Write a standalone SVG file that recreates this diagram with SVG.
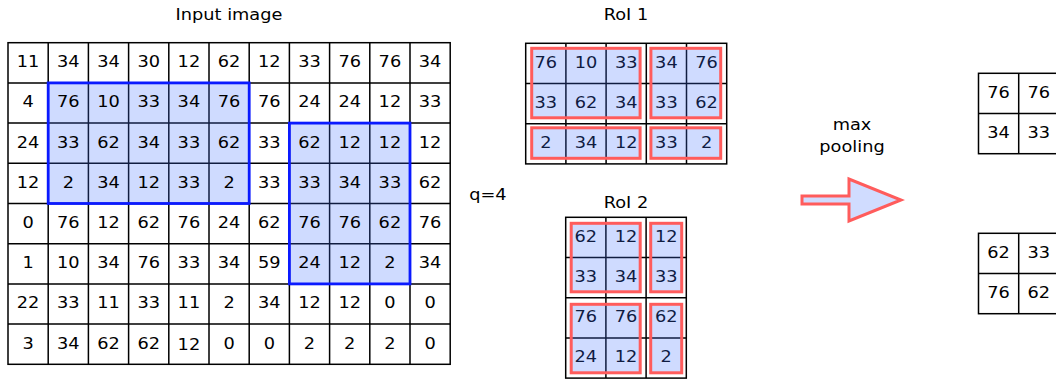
<svg xmlns="http://www.w3.org/2000/svg" width="1056" height="380" viewBox="0 0 1056 380">
  <style>
    text { font-family: "DejaVu Sans", "Liberation Sans", sans-serif; font-size: 16px; fill: #000;
           transform-box: fill-box; transform-origin: center; transform: scaleX(1.11); }
    .c { text-anchor: middle; }
    .grid { fill: none; stroke: #000; stroke-width: 1.5; }
    .frame { fill: #fff; stroke: #000; stroke-width: 1.5; }
    .roi { fill: #4070ff; fill-opacity: 0.25; stroke: #0a1aff; stroke-width: 2.8; }
    .bin { fill: #4070ff; fill-opacity: 0.25; stroke: #ff5c5c; stroke-width: 3; }
  </style>

  <!-- titles -->
  <g id="labels">
    <text class="c" x="229" y="20">Input image</text>
    <text class="c" x="626" y="20">RoI 1</text>
    <text class="c" x="626" y="208">RoI 2</text>
    <text x="471" y="200">q=4</text>
    <text class="c" x="852" y="130">max</text>
    <text class="c" x="852" y="152">pooling</text>
  </g>

  <!-- 8x11 input feature map -->
  <g id="input-image" transform="translate(8,42.7)">
    <rect class="frame" x="0" y="0" width="442.2" height="321.6"/>
    <path class="grid" d="M40.2 0V321.6M80.4 0V321.6M120.6 0V321.6M160.8 0V321.6M201 0V321.6M241.2 0V321.6M281.4 0V321.6M321.6 0V321.6M361.8 0V321.6M402 0V321.6
                          M0 40.2H442.2M0 80.4H442.2M0 120.6H442.2M0 160.8H442.2M0 201H442.2M0 241.2H442.2M0 281.4H442.2"/>
    <rect class="roi" x="40.2" y="40.2" width="201" height="120.6"/>
    <rect class="roi" x="281.4" y="80.4" width="120.6" height="160.8"/>
    <g class="c">
      <text class="c" x="20.1" y="24.6">11</text><text class="c" x="60.3" y="24.6">34</text><text class="c" x="100.5" y="24.6">34</text><text class="c" x="140.7" y="24.6">30</text><text class="c" x="180.9" y="24.6">12</text><text class="c" x="221.1" y="24.6">62</text><text class="c" x="261.3" y="24.6">12</text><text class="c" x="301.5" y="24.6">33</text><text class="c" x="341.7" y="24.6">76</text><text class="c" x="381.9" y="24.6">76</text><text class="c" x="422.1" y="24.6">34</text>
      <text class="c" x="20.1" y="64.8">4</text><text class="c" x="60.3" y="64.8">76</text><text class="c" x="100.5" y="64.8">10</text><text class="c" x="140.7" y="64.8">33</text><text class="c" x="180.9" y="64.8">34</text><text class="c" x="221.1" y="64.8">76</text><text class="c" x="261.3" y="64.8">76</text><text class="c" x="301.5" y="64.8">24</text><text class="c" x="341.7" y="64.8">24</text><text class="c" x="381.9" y="64.8">12</text><text class="c" x="422.1" y="64.8">33</text>
      <text class="c" x="20.1" y="105">24</text><text class="c" x="60.3" y="105">33</text><text class="c" x="100.5" y="105">62</text><text class="c" x="140.7" y="105">34</text><text class="c" x="180.9" y="105">33</text><text class="c" x="221.1" y="105">62</text><text class="c" x="261.3" y="105">33</text><text class="c" x="301.5" y="105">62</text><text class="c" x="341.7" y="105">12</text><text class="c" x="381.9" y="105">12</text><text class="c" x="422.1" y="105">12</text>
      <text class="c" x="20.1" y="145.2">12</text><text class="c" x="60.3" y="145.2">2</text><text class="c" x="100.5" y="145.2">34</text><text class="c" x="140.7" y="145.2">12</text><text class="c" x="180.9" y="145.2">33</text><text class="c" x="221.1" y="145.2">2</text><text class="c" x="261.3" y="145.2">33</text><text class="c" x="301.5" y="145.2">33</text><text class="c" x="341.7" y="145.2">34</text><text class="c" x="381.9" y="145.2">33</text><text class="c" x="422.1" y="145.2">62</text>
      <text class="c" x="20.1" y="185.4">0</text><text class="c" x="60.3" y="185.4">76</text><text class="c" x="100.5" y="185.4">12</text><text class="c" x="140.7" y="185.4">62</text><text class="c" x="180.9" y="185.4">76</text><text class="c" x="221.1" y="185.4">24</text><text class="c" x="261.3" y="185.4">62</text><text class="c" x="301.5" y="185.4">76</text><text class="c" x="341.7" y="185.4">76</text><text class="c" x="381.9" y="185.4">62</text><text class="c" x="422.1" y="185.4">76</text>
      <text class="c" x="20.1" y="225.6">1</text><text class="c" x="60.3" y="225.6">10</text><text class="c" x="100.5" y="225.6">34</text><text class="c" x="140.7" y="225.6">76</text><text class="c" x="180.9" y="225.6">33</text><text class="c" x="221.1" y="225.6">34</text><text class="c" x="261.3" y="225.6">59</text><text class="c" x="301.5" y="225.6">24</text><text class="c" x="341.7" y="225.6">12</text><text class="c" x="381.9" y="225.6">2</text><text class="c" x="422.1" y="225.6">34</text>
      <text class="c" x="20.1" y="265.8">22</text><text class="c" x="60.3" y="265.8">33</text><text class="c" x="100.5" y="265.8">11</text><text class="c" x="140.7" y="265.8">33</text><text class="c" x="180.9" y="265.8">11</text><text class="c" x="221.1" y="265.8">2</text><text class="c" x="261.3" y="265.8">34</text><text class="c" x="301.5" y="265.8">12</text><text class="c" x="341.7" y="265.8">12</text><text class="c" x="381.9" y="265.8">0</text><text class="c" x="422.1" y="265.8">0</text>
      <text class="c" x="20.1" y="306">3</text><text class="c" x="60.3" y="306">34</text><text class="c" x="100.5" y="306">62</text><text class="c" x="140.7" y="306">62</text><text class="c" x="180.9" y="307">12</text><text class="c" x="221.1" y="306">0</text><text class="c" x="261.3" y="306">0</text><text class="c" x="301.5" y="306">2</text><text class="c" x="341.7" y="306">2</text><text class="c" x="381.9" y="306">2</text><text class="c" x="422.1" y="306">0</text>
    </g>
  </g>

  <!-- RoI 1: 3x5 crop split into 2x2 bins -->
  <g id="roi-1" transform="translate(525.7,43.3)">
    <rect class="frame" x="0" y="0" width="201" height="120.6"/>
    <path class="grid" d="M40.2 0V120.6M80.4 0V120.6M120.6 0V120.6M160.8 0V120.6M0 40.2H201M0 80.4H201"/>
    <text class="c" x="20.1" y="24.6">76</text><text class="c" x="60.3" y="24.6">10</text><text class="c" x="100.5" y="24.6">33</text><text class="c" x="140.7" y="24.6">34</text><text class="c" x="180.9" y="24.6">76</text>
    <text class="c" x="20.1" y="64.8">33</text><text class="c" x="60.3" y="64.8">62</text><text class="c" x="100.5" y="64.8">34</text><text class="c" x="140.7" y="64.8">33</text><text class="c" x="180.9" y="64.8">62</text>
    <text class="c" x="20.1" y="105">2</text><text class="c" x="60.3" y="105">34</text><text class="c" x="100.5" y="105">12</text><text class="c" x="140.7" y="105">33</text><text class="c" x="180.9" y="105">2</text>
    <rect class="bin" x="6" y="5" width="108.4" height="69.5"/>
    <rect class="bin" x="125.2" y="5" width="69.8" height="69.5"/>
    <rect class="bin" x="6" y="84.5" width="108.4" height="30.5"/>
    <rect class="bin" x="125.2" y="84.5" width="69.8" height="30.5"/>
  </g>

  <!-- RoI 2: 4x3 crop split into 2x2 bins -->
  <g id="roi-2" transform="translate(565.7,217.3)">
    <rect class="frame" x="0" y="0" width="120.6" height="160.8"/>
    <path class="grid" d="M40.2 0V160.8M80.4 0V160.8M0 40.2H120.6M0 80.4H120.6M0 120.6H120.6"/>
    <text class="c" x="20.1" y="24.6">62</text><text class="c" x="60.3" y="24.6">12</text><text class="c" x="100.5" y="24.6">12</text>
    <text class="c" x="20.1" y="64.8">33</text><text class="c" x="60.3" y="64.8">34</text><text class="c" x="100.5" y="64.8">33</text>
    <text class="c" x="20.1" y="105">76</text><text class="c" x="60.3" y="105">76</text><text class="c" x="100.5" y="105">62</text>
    <text class="c" x="20.1" y="145.2">24</text><text class="c" x="60.3" y="145.2">12</text><text class="c" x="100.5" y="145.2">2</text>
    <rect class="bin" x="5.5" y="6" width="69" height="68.5"/>
    <rect class="bin" x="85" y="6" width="31" height="68.5"/>
    <rect class="bin" x="5.5" y="87" width="69" height="68.5"/>
    <rect class="bin" x="85" y="87" width="31" height="68.5"/>
  </g>

  <!-- max pooling block arrow -->
  <g id="pool-arrow">
    <path d="M802 196H849V179L901 200L849 221V204H802Z" fill="#d0dcff" stroke="#ff5c5c" stroke-width="3" stroke-linejoin="miter"/>
  </g>

  <!-- pooled outputs -->
  <g id="output-1" transform="translate(978.5,73.3)">
    <rect class="frame" x="0" y="0" width="80.4" height="80.4"/>
    <path class="grid" d="M40.2 0V80.4M0 40.2H80.4"/>
    <text class="c" x="20.1" y="24.6">76</text><text class="c" x="60.3" y="24.6">76</text>
    <text class="c" x="20.1" y="64.8">34</text><text class="c" x="60.3" y="64.8">33</text>
  </g>
  <g id="output-2" transform="translate(978.5,233.3)">
    <rect class="frame" x="0" y="0" width="80.4" height="80.4"/>
    <path class="grid" d="M40.2 0V80.4M0 40.2H80.4"/>
    <text class="c" x="20.1" y="24.6">62</text><text class="c" x="60.3" y="24.6">33</text>
    <text class="c" x="20.1" y="64.8">76</text><text class="c" x="60.3" y="64.8">62</text>
  </g>
</svg>
